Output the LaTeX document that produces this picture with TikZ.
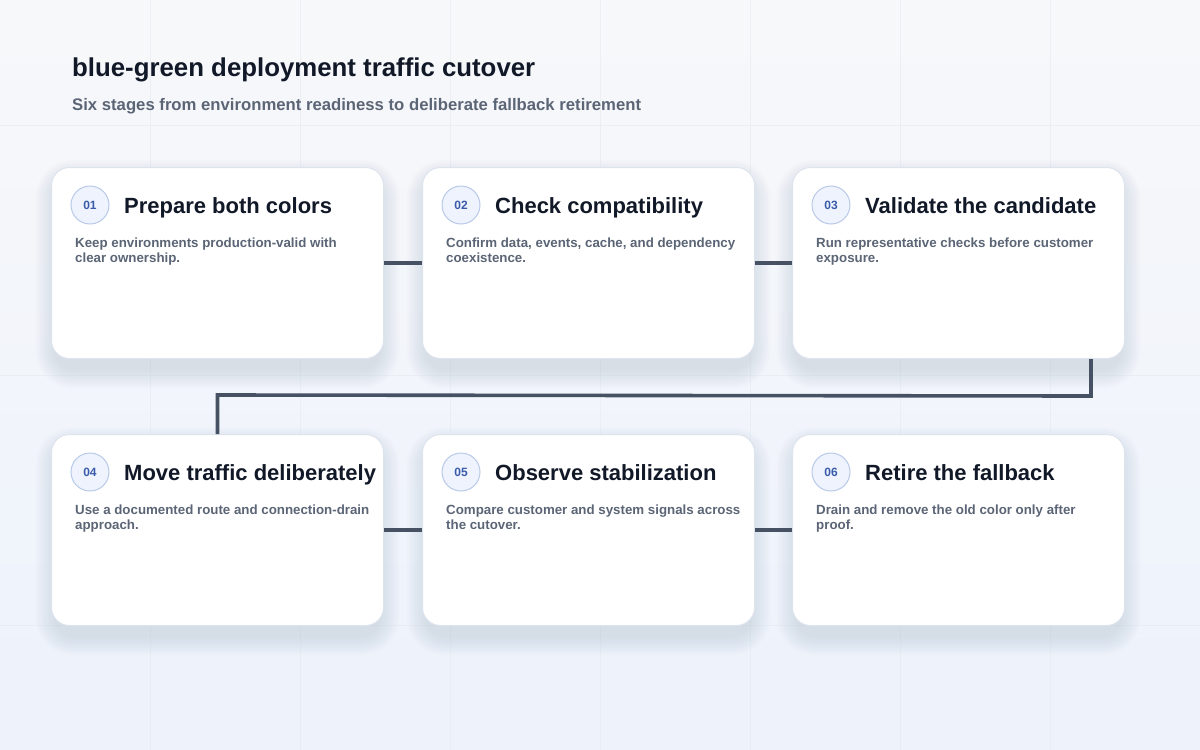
\documentclass[tikz,border=0pt]{standalone}
\usepackage{fontspec}
\setmainfont{Liberation Sans}
\usetikzlibrary{calc}
\definecolor{bgtop}{HTML}{F7F8FA}
\definecolor{bgbot}{HTML}{EDF2FB}
\definecolor{gridc}{HTML}{E3E8F0}
\definecolor{cardline}{HTML}{DEE4EE}
\definecolor{ink}{HTML}{111827}
\definecolor{muted}{HTML}{5B6576}
\definecolor{badgefill}{HTML}{EEF3FD}
\definecolor{badgeline}{HTML}{B9C9E8}
\definecolor{badgeink}{HTML}{3A5BAA}
\definecolor{wire}{HTML}{465263}
\definecolor{shadowc}{HTML}{5E6F90}
\pgfdeclarelayer{bglayer}
\pgfdeclarelayer{shadowlayer}
\pgfsetlayers{bglayer,shadowlayer,main}
\begin{document}
\begin{tikzpicture}[x=1pt,y=-1pt,
  card/.style={draw=cardline, line width=1pt, fill=white, rounded corners=18pt,
    minimum width=332pt, minimum height=191pt, anchor=north west, inner sep=0pt},
  badge/.style={circle, draw=badgeline, line width=1pt, fill=badgefill, minimum size=38pt,
    inner sep=0pt, text=badgeink, font=\fontsize{12}{12}\selectfont\bfseries},
  ttl/.style={anchor=base west, inner sep=0pt, text=ink, font=\fontsize{22}{26}\selectfont\bfseries},
  desc/.style={anchor=north west, inner sep=0pt, align=left, text=muted, font=\fontsize{13.3}{15}\selectfont\bfseries},
  wireline/.style={draw=wire, line width=3.6pt}
]
\useasboundingbox (0,0) rectangle (1200,750);
\begin{pgfonlayer}{bglayer}
\shade[top color=bgtop, bottom color=bgbot] (0,0) rectangle (1200,750);
\foreach \gx in {150,300,...,1050} \draw[gridc, line width=0.6pt, opacity=0.5] (\gx,0) -- (\gx,750);
\foreach \gy in {125,375,625} \draw[gridc, line width=0.6pt, opacity=0.5] (0,\gy) -- (1200,\gy);
\end{pgfonlayer}

\node[anchor=base west, inner sep=0pt, text=ink, font=\fontsize{25.8}{30}\selectfont\bfseries] (title) at (72,76) {blue-green deployment traffic cutover};
\node[anchor=base west, inner sep=0pt, text=muted, font=\fontsize{16.7}{20}\selectfont\bfseries] (subtitle) at (72,110) {Six stages from environment readiness to deliberate fallback retirement};

\node[card] (c1) at (51,167) {};
\node[card] (c2) at (422,167) {};
\node[card] (c3) at (792,167) {};
\node[card] (c4) at (51,434) {};
\node[card] (c5) at (422,434) {};
\node[card] (c6) at (792,434) {};

\begin{pgfonlayer}{shadowlayer}
\foreach \c in {c1,c2,c3,c4,c5,c6} {
  \foreach \r in {1,3,...,19} {
    \pgfmathsetmacro{\rc}{18+\r}
    \fill[shadowc, opacity=0.016, rounded corners=\rc pt]
      ($(\c.north west)+(-\r+4,12-\r)$) rectangle ($(\c.south east)+(\r-4,10+\r)$);
  }
}
\end{pgfonlayer}

\foreach \c/\n/\t/\d in {
  c1/01/{Prepare both colors}/{Keep environments production-valid with\\clear ownership.},
  c2/02/{Check compatibility}/{Confirm data, events, cache, and dependency\\coexistence.},
  c3/03/{Validate the candidate}/{Run representative checks before customer\\exposure.},
  c4/04/{Move traffic deliberately}/{Use a documented route and connection-drain\\approach.},
  c5/05/{Observe stabilization}/{Compare customer and system signals across\\the cutover.},
  c6/06/{Retire the fallback}/{Drain and remove the old color only after\\proof.}} {
  \node[badge] (\c b) at ($(\c.north west)+(39,38)$) {\n};
  \node[ttl] (\c t) at ($(\c.north west)+(73,46)$) {\t};
  \node[desc] (\c d) at ($(\c.north west)+(24,70.5)$) {\d};
}

\draw[wireline] (c1.east) -- (c2.west);
\draw[wireline] (c2.east) -- (c3.west);
\draw[wireline] (c4.east) -- (c5.west);
\draw[wireline] (c5.east) -- (c6.west);
\coordinate (k1) at ($(c3.south)+(132.5,37)$);
\coordinate (k2) at ($(c4.north)+(0,-39)$);
\draw[wireline] ($(c3.south)+(132.5,0)$) -- (k1) -- (k2) -- (c4.north);
\end{tikzpicture}
\end{document}
